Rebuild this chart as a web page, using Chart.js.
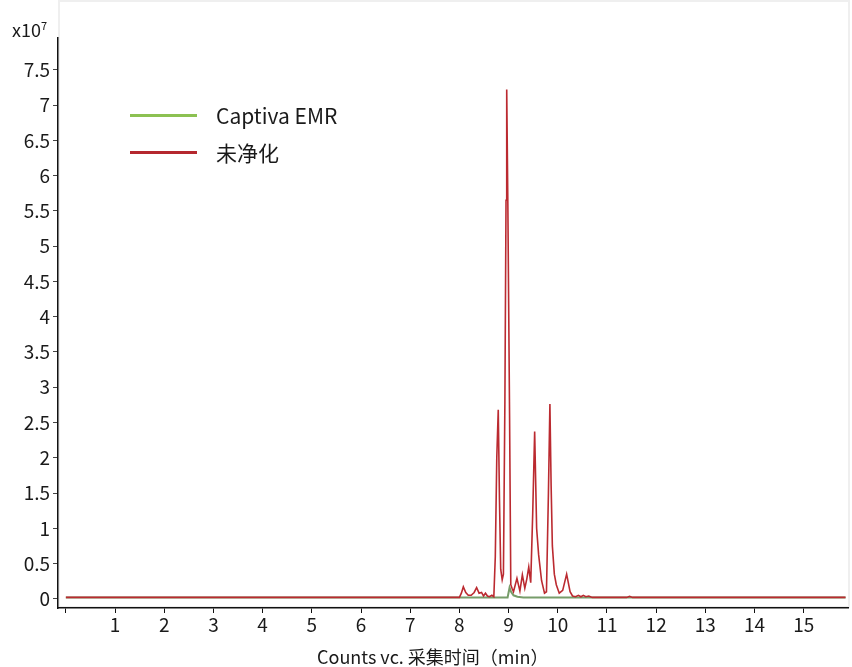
<!DOCTYPE html>
<html>
<head>
<meta charset="utf-8">
<script src="https://cdn.jsdelivr.net/npm/chart.js@4.4.0/dist/chart.umd.min.js"></script>
<style>
	body { margin: 0; background: #fff; }
	#wrap { position: relative; width: 852px; height: 667px; font-family: "Noto Sans CJK SC", "Noto Sans", sans-serif; color: #1a1a1a; }
	#marco { position: absolute; left: 58px; top: 0px; width: 788px; height: 604px; border: 2px solid #efefef; }
	#grafico { position: absolute; left: 0; top: 0; }
	.texto { position: absolute; white-space: nowrap; }
	.linea { position: absolute; width: 67px; height: 3px; }
</style>
</head>
<body>
<div id="wrap">
	<div id="marco"></div>
	<canvas id="grafico" width="852" height="667"></canvas>
	<div class="texto" style="left:12px; top:16px; font-size:18px;">x10<sup style="font-size:11px; vertical-align:7px;">7</sup></div>
	<div class="linea" style="left:130px; top:114px; background:#8cc152;"></div>
	<div class="texto" style="left:216px; top:100px; font-size:21px;">Captiva EMR</div>
	<div class="linea" style="left:130px; top:151px; background:#b5282e;"></div>
	<div class="texto" style="left:216px; top:137px; font-size:21px;">未净化</div>
	<div class="texto" style="left:317px; top:643px; font-size:18px;">Counts vc. 采集时间（min）</div>
</div>
<script>
// tiempos (min) y cuentas (x10^7)
const redTimes = [
	0, 8.00, 8.04, 8.08, 8.13, 8.18, 8.24, 8.30, 8.35, 8.40, 8.45, 8.49, 8.53, 8.57, 8.61, 8.66, 8.70,
	8.73, 8.76, 8.79, 8.815, 8.84, 8.87, 8.895, 8.925, 8.948, 8.962, 8.985, 9.02, 9.045, 9.07,
	9.10, 9.17, 9.23, 9.28, 9.33, 9.37, 9.41, 9.45,
	9.49, 9.53, 9.57, 9.61, 9.67, 9.73,
	9.77, 9.81, 9.84, 9.865, 9.89, 9.93, 9.97, 10.03, 10.10, 10.18, 10.25,
	10.30, 10.36, 10.42, 10.47, 10.52, 10.57, 10.63, 10.70, 11.40, 11.46, 11.52, 15.85
];
const redCounts = [
	0.02, 0.02, 0.08, 0.17, 0.09, 0.05, 0.05, 0.09, 0.16, 0.08, 0.09, 0.04, 0.08, 0.04, 0.03, 0.05, 0.03,
	0.6, 2.0, 2.68, 1.4, 0.42, 0.27, 0.35, 2.8, 5.65, 7.22, 5.6, 2.6, 0.2, 0.15,
	0.1, 0.29, 0.11, 0.34, 0.15, 0.28, 0.45, 0.23,
	1.2, 2.37, 1.0, 0.63, 0.26, 0.08,
	0.1, 1.5, 2.76, 1.6, 0.75, 0.35, 0.2, 0.08, 0.12, 0.35, 0.1,
	0.04, 0.03, 0.05, 0.03, 0.05, 0.03, 0.04, 0.02, 0.02, 0.035, 0.02, 0.02
];

const greenTimes = [0, 8.98, 9.00, 9.02, 9.05, 9.10, 9.18, 9.30, 15.85];
const greenCounts = [0.02, 0.02, 0.09, 0.16, 0.1, 0.05, 0.03, 0.02, 0.02];

const xTicks = [0, 1, 2, 3, 4, 5, 6, 7, 8, 9, 10, 11, 12, 13, 14, 15];
const yTicks = [0, 0.5, 1, 1.5, 2, 2.5, 3, 3.5, 4, 4.5, 5, 5.5, 6, 6.5, 7, 7.5];

function puntos(tiempos, cuentas){
	return tiempos.map((t, i) => ({ x: t, y: cuentas[i] }));
}

const fuente = { family: '"Noto Sans CJK SC", "Noto Sans", sans-serif', size: 19 };

const data = {
	datasets: [{
		label: '未净化',
		data: puntos(redTimes, redCounts),
		borderColor: '#bb2a30',
		borderWidth: 1.6,
		pointRadius: 0,
		tension: 0
	},{
		label: 'Captiva EMR',
		data: puntos(greenTimes, greenCounts),
		borderColor: 'rgba(95, 140, 80, 0.85)',
		borderWidth: 2,
		pointRadius: 0,
		tension: 0
	}]
};

const config = {
	type: 'line',
	data: data,
	options: {
		responsive: false,
		animation: false,
		layout: { padding: { top: 38, right: 4, left: 0, bottom: 0 } },
		plugins: {
			legend: { display: false },
			tooltip: { enabled: false }
		},
		scales: {
			x: {
				type: 'linear',
				min: -0.16,
				max: 15.9,
				afterFit: (scale) => { scale.height = 59; },
				afterBuildTicks: (axis) => { axis.ticks = xTicks.map(v => ({ value: v })); },
				border: { display: true, color: '#111', width: 1.5 },
				grid: { drawOnChartArea: false, drawTicks: true, tickLength: 5, color: '#111' },
				ticks: {
					color: '#1a1a1a',
					font: fuente,
					padding: 0,
					maxRotation: 0,
					autoSkip: false,
					callback: (v) => v == 0 ? '' : String(v)
				}
			},
			y: {
				type: 'linear',
				min: -0.13,
				max: 7.95,
				afterFit: (scale) => { scale.width = 58; },
				afterBuildTicks: (axis) => { axis.ticks = yTicks.map(v => ({ value: v })); },
				border: { display: true, color: '#111', width: 1.5 },
				grid: { drawOnChartArea: false, drawTicks: true, tickLength: 5, color: '#444' },
				ticks: {
					color: '#1a1a1a',
					font: fuente,
					padding: 3,
					autoSkip: false,
					callback: (v) => String(v)
				}
			}
		}
	}
};

const grafico = new Chart(document.getElementById('grafico'), config);
</script>
</body>
</html>
